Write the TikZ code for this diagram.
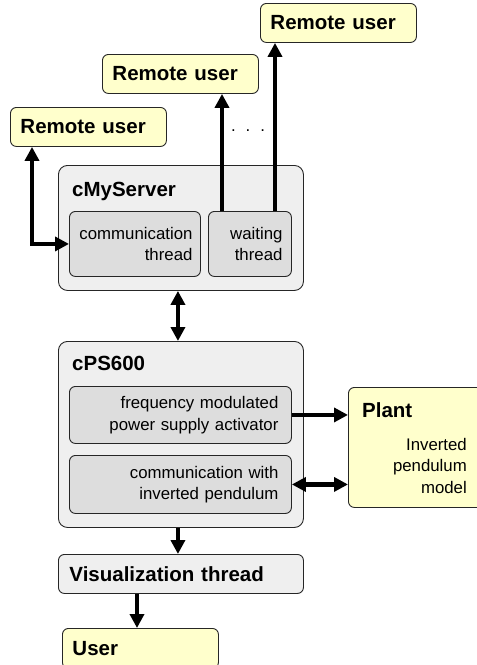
\documentclass[tikz,border=0pt]{standalone}
\usepackage{fontspec}
\setmainfont{Liberation Sans}
\usetikzlibrary{arrows.meta,positioning}
\definecolor{noteyellow}{HTML}{FFFFCC}
\definecolor{outergray}{HTML}{EFEFEF}
\definecolor{innergray}{HTML}{DDDDDD}
\begin{document}
\begin{tikzpicture}[x=1pt, y=-1pt,
    box/.style={draw=black!85, line width=0.9pt, rounded corners=6pt, inner sep=0pt, anchor=north west},
    outerbox/.style={box, fill=outergray, rounded corners=9pt},
    innerbox/.style={box, fill=innergray, align=right, font=\fontsize{16.8}{21.5}\selectfont},
    userbox/.style={box, fill=noteyellow, minimum width=156pt, minimum height=39pt, text width=136pt, inner xsep=10pt, align=left, font=\fontsize{20.5}{24}\selectfont\bfseries},
    title/.style={anchor=north west, inner sep=0pt, font=\fontsize{20.5}{24}\selectfont\bfseries},
    flow/.style={line width=4.5pt, -{Triangle[length=14pt,width=14pt]}},
    flowboth/.style={line width=4.5pt, {Triangle[length=14pt,width=14pt]}-{Triangle[length=14pt,width=14pt]}}]
    \useasboundingbox (0,0) rectangle (477,665);
    % Draw the remote users.
    \node[userbox] (ruone) at (10,107) {Remote user};
    \node[userbox] (rutwo) at (102,54) {Remote user};
    \node[userbox] (ruthree) at (260,3) {Remote user};
    \node (dots) at (248,131) {\fontsize{16.8}{20}\selectfont .\hspace{10pt}.\hspace{10pt}.};
    % Draw the server and its threads.
    \node[outerbox, minimum width=245pt, minimum height=125pt] (srv) at (58,165) {};
    \node[title] (srvtitle) at (72,182) {cMyServer};
    \node[innerbox, minimum width=131pt, minimum height=65pt, text width=115pt, inner xsep=8pt] (commthr) at (69,211) {communication\\thread};
    \node[innerbox, minimum width=83pt, minimum height=65pt, text width=65pt, inner xsep=9pt] (waitthr) at (208,211) {waiting\\thread};
    % Draw cPS600 and its parts.
    \node[outerbox, minimum width=245pt, minimum height=186pt] (ps) at (58,341) {};
    \node[title] (pstitle) at (72,356) {cPS600};
    \node[innerbox, minimum width=222pt, minimum height=57pt, text width=196pt, inner xsep=13pt] (freq) at (69,386) {frequency modulated\\power supply activator};
    \node[innerbox, minimum width=222pt, minimum height=58pt, text width=196pt, inner xsep=13pt] (commpend) at (69,455) {communication with\\inverted pendulum};
    % Draw the plant.
    \node[box, fill=noteyellow, minimum width=135pt, minimum height=120pt] (plant) at (348,387) {};
    \node[title] (planttitle) at (362,402) {Plant};
    \node[anchor=north east, inner sep=0pt, align=right, font=\fontsize{16.8}{21.5}\selectfont] (plantbody) at (467,438) {Inverted\\pendulum\\model};
    % Draw the visualization thread and the user.
    \node[box, fill=outergray, minimum width=245pt, minimum height=39pt, text width=223pt, inner xsep=11pt, align=left, font=\fontsize{20.5}{24}\selectfont\bfseries] (vis) at (58,554) {Visualization thread};
    \node[userbox, minimum height=40pt] (user) at (62,628) {User};
    % Draw the connections.
    \draw[flowboth] ([xshift=22pt]ruone.south west) |- (commthr.west);
    \draw[flow] ([xshift=14pt]waitthr.north west) -- ([xshift=14pt]waitthr.north west |- rutwo.south);
    \draw[flow] ([xshift=67pt]waitthr.north west) -- ([xshift=67pt]waitthr.north west |- ruthree.south);
    \draw[flowboth] ([xshift=-3pt]srv.south) -- ([xshift=-3pt]ps.north);
    \draw[flow] (freq.east) -- (freq.east -| plant.west);
    \draw[flowboth] (commpend.east) -- (commpend.east -| plant.west);
    \draw[flow] ([xshift=-3pt]ps.south) -- ([xshift=-3pt]vis.north);
    \draw[flow] ([xshift=79pt]vis.south west) -- ([xshift=79pt]vis.south west |- user.north);
\end{tikzpicture}
\end{document}
